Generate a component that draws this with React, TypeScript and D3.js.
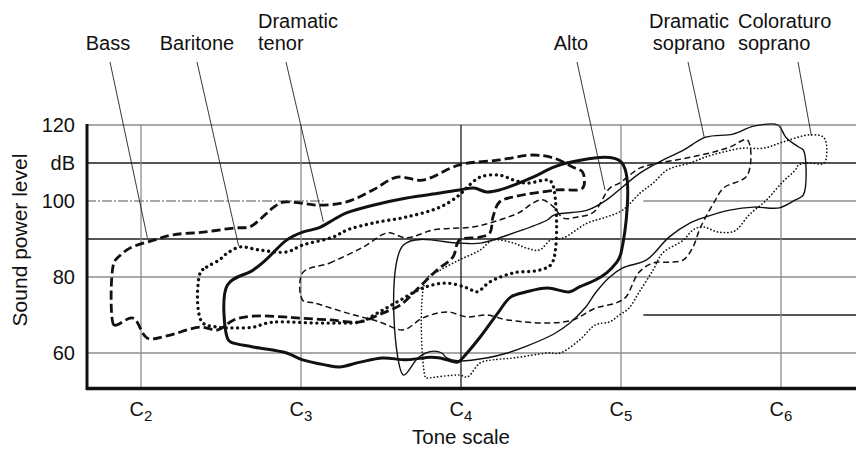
import React from 'react';
import * as d3 from 'd3';

// ---------- DATA (octave number where C2 = 2, sound power level in dB) ----------
const bass: [number, number][] = [
  [1.83, 83.7], [1.83, 67.4], [1.85, 67.4], [1.95, 69.2], [2.04, 63.9], [2.16, 64.5],
  [2.37, 66.8], [2.48, 66.1], [2.58, 68.7], [2.70, 69.7], [2.89, 69.5], [2.99, 69.2],
  [3.18, 68.7], [3.37, 68.2], [3.51, 70.5], [3.62, 72.6], [3.74, 77.4], [3.85, 81.8],
  [3.95, 85.3], [3.99, 89.7], [4.12, 90.5], [4.18, 91.6], [4.20, 95.8], [4.24, 99.7],
  [4.33, 101.1], [4.60, 102.9], [4.76, 103.4], [4.76, 107.6], [4.70, 108.9], [4.58, 111.3],
  [4.45, 112.1], [4.24, 110.8], [3.99, 109.5], [3.76, 105.5], [3.60, 106.3], [3.45, 102.9],
  [3.28, 99.7], [3.11, 98.9], [2.99, 99.5], [2.89, 99.7], [2.83, 98.4], [2.74, 95.0],
  [2.68, 93.2], [2.58, 92.9], [2.39, 91.8], [2.20, 91.1], [2.08, 89.7], [1.93, 87.6],
  [1.86, 85.3],
];

const baritone: [number, number][] = [
  [2.37, 81.1], [2.41, 82.6], [2.49, 84.5], [2.54, 86.3], [2.62, 87.9], [2.74, 87.1],
  [2.91, 86.6], [3.01, 88.4], [3.20, 90.5], [3.29, 92.4], [3.45, 94.2], [3.66, 95.8],
  [3.87, 98.4], [3.99, 101.6], [4.04, 103.7], [4.12, 106.3], [4.24, 106.8], [4.33, 105.5],
  [4.41, 104.7], [4.54, 105.5], [4.57, 104.7], [4.57, 83.7], [4.49, 81.8], [4.33, 81.1],
  [4.18, 78.7], [4.10, 76.1], [4.04, 77.1], [3.91, 78.4], [3.76, 77.1], [3.62, 73.9],
  [3.49, 70.8], [3.37, 68.2], [3.24, 67.9], [3.08, 67.9], [2.87, 68.2], [2.79, 67.9],
  [2.70, 66.8], [2.58, 66.6], [2.48, 66.8], [2.38, 68.2],
];

const dramaticTenor: [number, number][] = [
  [2.54, 77.9], [2.70, 81.8], [2.78, 84.5], [2.91, 89.7], [3.01, 91.8], [3.11, 92.9],
  [3.20, 95.0], [3.28, 96.8], [3.45, 98.9], [3.66, 100.8], [3.87, 102.1], [3.99, 102.9],
  [4.08, 103.4], [4.16, 102.4], [4.24, 102.9], [4.33, 104.2], [4.45, 106.3], [4.58, 108.9],
  [4.66, 110.0], [5.00, 110.3], [5.00, 86.3], [4.97, 83.7], [4.91, 81.1], [4.84, 79.2],
  [4.74, 77.4], [4.68, 76.1], [4.54, 77.1], [4.41, 76.1], [4.31, 74.7], [4.23, 70.5],
  [4.12, 64.2], [4.01, 58.7], [3.98, 57.6], [3.87, 58.7], [3.81, 58.9], [3.66, 58.2],
  [3.51, 58.7], [3.37, 57.6], [3.24, 56.3], [3.16, 56.8], [3.01, 58.2], [2.91, 60.0],
  [2.70, 61.6], [2.56, 62.9], [2.54, 63.9],
];

const alto: [number, number][] = [
  [3.01, 81.1], [3.18, 83.7], [3.39, 87.9], [3.54, 91.6], [3.66, 90.3], [3.83, 92.4],
  [4.08, 93.2], [4.24, 95.0], [4.37, 97.1], [4.45, 99.5], [4.51, 100.3], [4.58, 98.4],
  [4.64, 95.5], [4.73, 95.8], [4.83, 97.1], [4.93, 103.4], [4.99, 104.7], [5.12, 108.7],
  [5.24, 110.0], [5.41, 111.3], [5.58, 112.9], [5.68, 114.2], [5.79, 116.1], [5.79, 106.8],
  [5.64, 103.4], [5.58, 99.5], [5.53, 95.8], [5.49, 92.4], [5.45, 87.9], [5.39, 84.5],
  [5.30, 83.9], [5.20, 83.7], [5.11, 81.1], [5.03, 74.7], [4.97, 73.2], [4.84, 71.8],
  [4.70, 68.7], [4.54, 67.9], [4.29, 68.7], [4.16, 70.0], [4.04, 69.5], [3.91, 70.8],
  [3.76, 69.2], [3.64, 66.1], [3.49, 68.2], [3.29, 70.5], [3.08, 73.2], [3.01, 73.9],
];

const dramaticSoprano: [number, number][] = [
  [3.64, 88.4], [3.99, 88.9], [4.12, 88.9], [4.33, 91.6], [4.54, 95.0], [4.58, 96.3],
  [4.79, 97.6], [4.91, 100.3], [5.01, 103.7], [5.12, 107.4], [5.24, 110.3], [5.39, 113.4],
  [5.53, 116.8], [5.70, 117.6], [5.83, 119.7], [5.98, 120.0], [6.03, 116.8], [6.11, 114.2],
  [6.14, 113.4], [6.14, 101.6], [6.09, 100.3], [5.99, 98.2], [5.83, 98.4], [5.68, 97.6],
  [5.53, 95.8], [5.43, 94.2], [5.30, 90.5], [5.16, 84.5], [5.01, 82.4], [4.93, 80.0],
  [4.84, 75.8], [4.78, 72.1], [4.68, 67.9], [4.58, 65.0], [4.41, 61.8], [4.29, 60.0],
  [4.16, 58.7], [3.99, 57.9], [3.91, 58.7], [3.88, 60.0], [3.83, 60.5], [3.78, 60.0],
  [3.73, 58.7], [3.64, 54.2],
];

const coloraturoSoprano: [number, number][] = [
  [3.78, 79.2], [3.87, 81.8], [3.99, 84.5], [4.12, 87.1], [4.20, 89.7], [4.33, 88.9],
  [4.41, 87.6], [4.49, 87.1], [4.56, 89.7], [4.64, 90.3], [4.79, 94.2], [4.91, 95.8],
  [5.01, 97.6], [5.12, 102.1], [5.20, 104.7], [5.29, 108.2], [5.43, 110.0], [5.53, 111.6],
  [5.64, 112.9], [5.76, 113.9], [5.89, 113.9], [6.01, 115.5], [6.18, 117.4], [6.27, 116.6],
  [6.27, 110.0], [6.18, 110.0], [6.11, 109.5], [6.09, 108.2], [6.01, 105.0], [5.91, 100.3],
  [5.80, 96.3], [5.71, 92.1], [5.61, 91.8], [5.51, 93.2], [5.45, 92.4], [5.39, 89.7],
  [5.26, 86.3], [5.20, 81.8], [5.11, 75.8], [5.05, 71.8], [4.99, 70.0], [4.93, 68.2],
  [4.84, 67.4], [4.74, 63.4], [4.62, 60.0], [4.54, 60.0], [4.33, 58.7], [4.20, 58.2],
  [4.12, 57.4], [4.04, 53.7], [3.99, 54.2], [3.79, 53.4], [3.78, 53.4],
];

const voiceNames = ['Bass', 'Baritone', 'Dramatic tenor', 'Alto', 'Dramatic soprano', 'Coloraturo soprano'];
const voiceData = [bass, baritone, dramaticTenor, alto, dramaticSoprano, coloraturoSoprano];
const labelLines: string[][] = [['Bass'], ['Baritone'], ['Dramatic', 'tenor'], ['Alto'], ['Dramatic', 'soprano'], ['Coloraturo', 'soprano']];
// point of each contour that the label's leader line touches (octave, dB)
const leaderTargets: [number, number][] = [[2.04, 90.3], [2.61, 88.2], [3.14, 94.5], [4.90, 102.9], [5.52, 116.8], [6.19, 117.1]];

const yTicks = [120, 110, 100, 90, 80, 70, 60];
const yTickLabels = ['120', 'dB', '100', '', '80', '', '60'];
const xTicks = [2, 3, 4, 5, 6];
const xTickNames = ['C', 'C', 'C', 'C', 'C'];
const xTickSubs = ['2', '3', '4', '5', '6'];

// ---------- LAYOUT / STYLE ----------
const W = 856;
const H = 449;
const plotLeft = 86;
const plotRight = 856;
const plotTop = 125;
const plotBottom = 388;
const FONT = "'Liberation Sans', Arial, Helvetica, sans-serif";
const GRAY = '#8c8c8c';
const DARK = '#1c1c1c';

const x = d3.scaleLinear().domain([2, 6]).range([141, 781]);
const y = d3.scaleLinear().domain([60, 120]).range([353, 125]);

const voiceStyles = [
  { width: 2.8, dash: '9 4', cap: 'butt' },
  { width: 3.3, dash: '0.1 5.6', cap: 'round' },
  { width: 3.0, dash: '', cap: 'butt' },
  { width: 1.5, dash: '6 3.5', cap: 'butt' },
  { width: 1.4, dash: '', cap: 'butt' },
  { width: 1.7, dash: '0.1 3.4', cap: 'round' },
];

// gridline pieces: [value, fromOct, toOct, color, dash]
const hGrid: [number, number | null, number | null, string, string][] = [
  [120, null, null, GRAY, ''],
  [110, null, null, DARK, ''],
  [100, null, 3.14, GRAY, '10 2 2 2'],
  [100, 5.14, null, GRAY, ''],
  [90, null, null, DARK, ''],
  [80, null, null, GRAY, ''],
  [70, 5.14, null, DARK, ''],
  [60, null, null, GRAY, ''],
];
const vGridColors = [GRAY, GRAY, DARK, GRAY, GRAY];

const labelLayout = [
  { tx: 108, anchor: 'middle', lx: 110 },
  { tx: 197, anchor: 'middle', lx: 197 },
  { tx: 258, anchor: 'start', lx: 286 },
  { tx: 571, anchor: 'middle', lx: 577 },
  { tx: 689, anchor: 'middle', lx: 688 },
  { tx: 738, anchor: 'start', lx: 798 },
];

const contour = d3
  .line<[number, number]>()
  .x((d) => x(d[0]))
  .y((d) => y(d[1]))
  .curve(d3.curveCatmullRomClosed.alpha(0.5));

export default function App() {
  return (
    <svg
      width={W}
      height={H}
      viewBox={`0 0 ${W} ${H}`}
      style={{ position: 'absolute', left: 0, top: 0, background: '#fff' }}
      fontFamily={FONT}
    >
      <rect x={0} y={0} width={W} height={H} fill="#fff" />
      {/* horizontal grid */}
      {hGrid.map(([v, from, to, color, dash], i) => (
        <line
          key={'h' + i}
          x1={from == null ? plotLeft : x(from)}
          x2={to == null ? plotRight : x(to)}
          y1={y(v)}
          y2={y(v)}
          stroke={color}
          strokeWidth={1.3}
          strokeDasharray={dash || undefined}
        />
      ))}
      {/* vertical grid */}
      {xTicks.map((t, i) => (
        <line key={'v' + i} x1={x(t)} x2={x(t)} y1={plotTop} y2={plotBottom} stroke={vGridColors[i]} strokeWidth={1.3} />
      ))}

      {/* voice contours */}
      {voiceData.map((pts, i) => (
        <path
          key={voiceNames[i]}
          d={contour(pts) || ''}
          fill="none"
          stroke="#111"
          strokeWidth={voiceStyles[i].width}
          strokeDasharray={voiceStyles[i].dash || undefined}
          strokeLinecap={voiceStyles[i].cap as any}
          strokeLinejoin="round"
        />
      ))}

      {/* frame */}
      <line x1={plotLeft + 1} x2={plotLeft + 1} y1={plotTop - 1} y2={plotBottom + 2} stroke="#111" strokeWidth={3} />
      <line x1={plotLeft} x2={plotRight} y1={plotBottom + 0.5} y2={plotBottom + 0.5} stroke="#111" strokeWidth={3.5} />

      {/* y tick labels */}
      {yTicks.map((t, i) =>
        yTickLabels[i] ? (
          <text key={'yt' + i} x={75} y={y(t)} dy="0.36em" textAnchor="end" fontSize={20} fill="#111">
            {yTickLabels[i]}
          </text>
        ) : null
      )}
      {/* x tick labels */}
      {xTicks.map((t, i) => (
        <text key={'xt' + i} x={x(t)} y={416} textAnchor="middle" fontSize={20} fill="#111">
          {xTickNames[i]}
          <tspan fontSize={15} dy={5}>{xTickSubs[i]}</tspan>
        </text>
      ))}

      {/* axis titles */}
      <text x={x(4)} y={444} textAnchor="middle" fontSize={20.5} fill="#111">Tone scale</text>
      <text transform={`translate(27, ${240}) rotate(-90)`} textAnchor="middle" fontSize={21} fill="#111">
        Sound power level
      </text>

      {/* labels + leader lines */}
      {labelLines.map((lines, i) => {
        const L = labelLayout[i];
        const [to, tdb] = leaderTargets[i];
        return (
          <g key={'lab' + i}>
            <line x1={L.lx} y1={62} x2={x(to)} y2={y(tdb)} stroke="#222" strokeWidth={0.9} />
            {lines.map((s, j) => (
              <text
                key={j}
                x={L.tx}
                y={lines.length === 2 ? (j === 0 ? 28 : 50) : 50}
                textAnchor={L.anchor as any}
                fontSize={20}
                fill="#111"
              >
                {s}
              </text>
            ))}
          </g>
        );
      })}
    </svg>
  );
}
